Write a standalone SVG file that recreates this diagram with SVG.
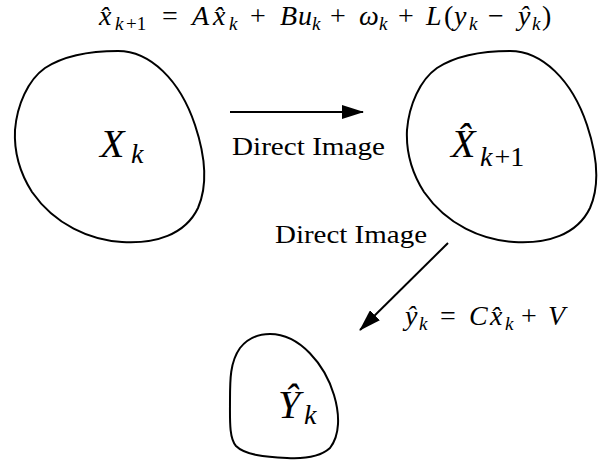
<svg xmlns="http://www.w3.org/2000/svg" width="605" height="462" viewBox="0 0 605 462">
<style>
.blob{fill:none;stroke:#000;stroke-width:2}
.lbl{font-family:"Liberation Serif",serif;fill:#000}
.i{font-style:italic}
.s{font-size:19px}
.edge{stroke:#000;stroke-width:2;fill:none}
</style>
<defs>
<marker id="ah2" markerWidth="22" markerHeight="14" refX="21" refY="7" orient="auto" markerUnits="userSpaceOnUse">
<path d="M0,0 L22,7 L0,14 Z" fill="#000"/>
</marker>
</defs>
<rect width="605" height="462" fill="#fff"/>
<text class="lbl" y="25" font-size="28"><tspan class="i" x="99">x̂</tspan><tspan class="i s" x="115" y="30">k</tspan><tspan class="s" x="126" y="30">+1</tspan><tspan x="162" y="25">=</tspan><tspan class="i" x="192">A</tspan><tspan class="i" x="213">x̂</tspan><tspan class="i s" x="229" y="30">k</tspan><tspan x="250" y="25">+</tspan><tspan class="i" x="280">B</tspan><tspan class="i" x="298">u</tspan><tspan class="i s" x="312" y="30">k</tspan><tspan x="330" y="25">+</tspan><tspan class="i" x="359">ω</tspan><tspan class="i s" x="379" y="30">k</tspan><tspan x="398" y="25">+</tspan><tspan class="i" x="426">L</tspan><tspan x="444">(</tspan><tspan class="i" x="454">y</tspan><tspan class="i s" x="469" y="30">k</tspan><tspan x="488" y="25">−</tspan><tspan class="i" x="518">ŷ</tspan><tspan class="i s" x="532" y="30">k</tspan><tspan x="542" y="25">)</tspan></text>
<g id="node-xk">
<path class="blob" d="M118,51 C150,51 180,80 195,125 C205,155 208,185 198,208 C185,235 155,244 122,242 C90,240 55,225 32,192 C18,170 14,150 15,130 C17,105 28,80 45,68 C65,55 90,51 118,51 Z"/>
<text class="lbl i" y="157" font-size="40"><tspan x="100">X</tspan><tspan x="131" y="163" font-size="28">k</tspan></text>
</g>
<g id="node-xk1">
<path class="blob" d="M510,51 C542,51 572,80 587,125 C597,155 600,185 590,208 C577,235 547,244 514,242 C482,240 447,225 424,192 C410,170 406,150 407,130 C409,105 420,80 437,68 C457,55 482,51 510,51 Z"/>
<text class="lbl i" y="157" font-size="40"><tspan x="451">X̂</tspan><tspan x="480" y="166" font-size="28">k</tspan><tspan y="166" font-size="28" font-style="normal" dx="2">+1</tspan></text>
</g>
<g id="node-yk">
<path class="blob" d="M270,334 C300,334 325,365 334,395 C340,415 340,435 330,448 C320,457 305,459 287,458 C265,457 245,455 236,446 C229,438 230,420 230,400 C230,380 230,362 240,348 C248,338 258,334 270,334 Z"/>
<text class="lbl i" y="418" font-size="40"><tspan x="278">Ŷ</tspan><tspan x="304" y="424" font-size="28">k</tspan></text>
</g>
<g id="connectors">
<line class="edge" x1="230" y1="112" x2="363" y2="112" marker-end="url(#ah2)"/>
<line class="edge" x1="448" y1="243" x2="360" y2="330" marker-end="url(#ah2)"/>
</g>
<text class="lbl" x="232" y="155" font-size="26" textLength="153" lengthAdjust="spacingAndGlyphs">Direct Image</text>
<text class="lbl" x="275" y="243" font-size="26" textLength="152" lengthAdjust="spacingAndGlyphs">Direct Image</text>
<text class="lbl" y="325" font-size="28"><tspan class="i" x="405">ŷ</tspan><tspan class="i s" x="419" y="330">k</tspan><tspan x="440" y="325">=</tspan><tspan class="i" x="469">C</tspan><tspan class="i" x="490">x̂</tspan><tspan class="i s" x="505" y="330">k</tspan><tspan x="521" y="325">+</tspan><tspan class="i" x="548">V</tspan></text>
</svg>
